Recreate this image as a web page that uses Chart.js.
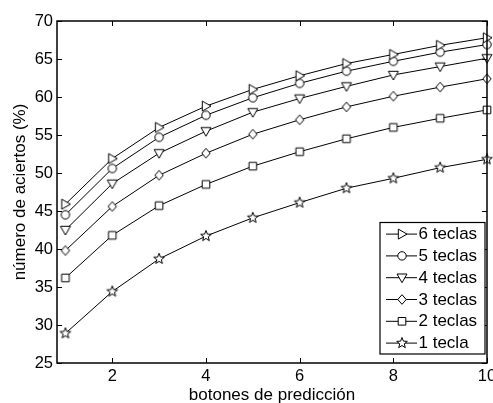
<!DOCTYPE html>
<html>
<head>
<meta charset="utf-8">
<script src="https://cdn.jsdelivr.net/npm/chart.js@4.4.1/dist/chart.umd.min.js"></script>
<style>
  html, body { margin: 0; padding: 0; background: #ffffff; }
  #wrap { width: 493px; height: 403px; }
</style>
</head>
<body>
<div id="wrap"><canvas id="c" width="493" height="403"></canvas></div>
<script>
// Número de botones de predicción (eje x)
const botones = [1, 2, 3, 4, 5, 6, 7, 8, 9, 10];

// Porcentaje de aciertos por número de teclas
const teclas6 = [45.9, 51.9, 56.0, 58.8, 61.0, 62.8, 64.4, 65.6, 66.8, 67.8];
const teclas5 = [44.5, 50.6, 54.7, 57.6, 59.9, 61.8, 63.4, 64.7, 65.9, 66.9];
const teclas4 = [42.5, 48.6, 52.6, 55.5, 58.0, 59.8, 61.4, 62.9, 64.0, 65.1];
const teclas3 = [39.8, 45.6, 49.7, 52.6, 55.1, 57.0, 58.7, 60.1, 61.3, 62.4];
const teclas2 = [36.2, 41.8, 45.7, 48.5, 50.9, 52.8, 54.5, 56.0, 57.2, 58.3];
const tecla1  = [28.9, 34.4, 38.7, 41.7, 44.1, 46.1, 48.0, 49.3, 50.7, 51.8];

const etiquetas = ['6 teclas', '5 teclas', '4 teclas', '3 teclas', '2 teclas', '1 tecla'];
const series = [teclas6, teclas5, teclas4, teclas3, teclas2, tecla1];
const marcadores = ['triRight', 'circle', 'triDown', 'diamond', 'square', 'star'];

const xTicks = [2, 4, 6, 8, 10];
const yTicks = [25, 30, 35, 40, 45, 50, 55, 60, 65, 70];

// Hollow marker glyphs drawn on small canvases
function trazarMarcador(ctx, forma, cx, cy) {
  ctx.beginPath();
  if (forma === 'triRight') {
    ctx.moveTo(cx - 3.7, cy - 5); ctx.lineTo(cx + 5, cy); ctx.lineTo(cx - 3.7, cy + 5); ctx.closePath();
  } else if (forma === 'circle') {
    ctx.arc(cx, cy, 4.2, 0, Math.PI * 2);
  } else if (forma === 'triDown') {
    ctx.moveTo(cx - 5, cy - 3.7); ctx.lineTo(cx + 5, cy - 3.7); ctx.lineTo(cx, cy + 5); ctx.closePath();
  } else if (forma === 'diamond') {
    ctx.moveTo(cx, cy - 4.8); ctx.lineTo(cx + 4.2, cy); ctx.lineTo(cx, cy + 4.8); ctx.lineTo(cx - 4.2, cy); ctx.closePath();
  } else if (forma === 'square') {
    ctx.rect(cx - 3.8, cy - 3.8, 7.6, 7.6);
  } else if (forma === 'star') {
    const ro = 5.6, ri = 2.4;
    for (let k = 0; k < 10; k++) {
      const r = k % 2 === 0 ? ro : ri;
      const a = -Math.PI / 2 + k * Math.PI / 5;
      const px = cx + r * Math.cos(a), py = cy + r * Math.sin(a);
      if (k === 0) ctx.moveTo(px, py); else ctx.lineTo(px, py);
    }
    ctx.closePath();
  }
  ctx.fillStyle = '#ffffff';
  ctx.fill();
  ctx.strokeStyle = '#000000';
  ctx.lineWidth = 1;
  ctx.stroke();
}

function crearMarcador(forma) {
  const cv = document.createElement('canvas');
  cv.width = 16; cv.height = 16;
  trazarMarcador(cv.getContext('2d'), forma, 8, 8);
  return cv;
}

const datasets = series.map((vals, i) => ({
  label: etiquetas[i],
  data: botones.map((b, j) => ({ x: b, y: vals[j] })),
  borderColor: '#000000',
  borderWidth: 1,
  backgroundColor: '#ffffff',
  pointStyle: crearMarcador(marcadores[i]),
  pointRadius: 5,
  pointHoverRadius: 5,
  tension: 0,
  clip: false
}));

// Axis box with inward ticks on all four sides, plus the boxed legend
const marcoYLeyenda = {
  id: 'marcoYLeyenda',
  afterDraw(chart) {
    const { ctx, chartArea: a, scales } = chart;
    const sx = scales.x, sy = scales.y;
    const tl = 5;
    ctx.save();
    ctx.strokeStyle = '#000000';
    ctx.lineWidth = 1;
    ctx.beginPath();
    xTicks.forEach(v => {
      const px = Math.round(sx.getPixelForValue(v)) + 0.5;
      ctx.moveTo(px, a.bottom); ctx.lineTo(px, a.bottom - tl);
      ctx.moveTo(px, a.top); ctx.lineTo(px, a.top + tl);
    });
    yTicks.forEach(v => {
      const py = Math.round(sy.getPixelForValue(v)) + 0.5;
      ctx.moveTo(a.left, py); ctx.lineTo(a.left + tl, py);
      ctx.moveTo(a.right, py); ctx.lineTo(a.right - tl, py);
    });
    ctx.stroke();
    ctx.lineWidth = 1.5;
    ctx.strokeRect(a.left, a.top, a.right - a.left, a.bottom - a.top);

    // legend
    const bw = 105, bh = 131.5;
    const bx = a.right - 2 - bw, by = a.bottom - 9 - bh;
    ctx.fillStyle = '#ffffff';
    ctx.fillRect(bx, by, bw, bh);
    ctx.lineWidth = 1.2;
    ctx.strokeRect(bx, by, bw, bh);
    ctx.font = '17px "Liberation Sans", Arial, sans-serif';
    ctx.textBaseline = 'middle';
    ctx.textAlign = 'left';
    chart.data.datasets.forEach((ds, i) => {
      const cy = by + 11.6 + i * 21.8;
      ctx.beginPath();
      ctx.lineWidth = 1;
      ctx.moveTo(bx + 6, cy); ctx.lineTo(bx + 37, cy);
      ctx.stroke();
      trazarMarcador(ctx, marcadores[i], bx + 22, cy);
      ctx.fillStyle = '#000000';
      ctx.fillText(ds.label, bx + 38.5, cy + 0.5);
    });
    ctx.restore();
  }
};

const fuenteTicks = { family: '"Liberation Sans", Arial, sans-serif', size: 16.5 };
const fuenteTitulo = { family: '"Liberation Sans", Arial, sans-serif', size: 17, lineHeight: 1 };

new Chart(document.getElementById('c'), {
  type: 'line',
  data: { datasets },
  options: {
    responsive: false,
    animation: false,
    devicePixelRatio: 1,
    layout: { padding: { top: 21, right: 4, left: 0, bottom: 0 } },
    plugins: {
      legend: { display: false },
      tooltip: { enabled: false }
    },
    scales: {
      x: {
        type: 'linear',
        min: 0.82,
        max: 10,
        afterBuildTicks(scale) { scale.ticks = xTicks.map(v => ({ value: v })); },
        afterFit(scale) { scale.height = 40; scale.paddingLeft = 0; scale.paddingRight = 0; },
        grid: { display: false, drawTicks: false },
        border: { display: false },
        ticks: { color: '#000000', font: fuenteTicks, padding: 3.5, maxRotation: 0, autoSkip: false },
        title: {
          display: true,
          text: 'botones de predicción',
          color: '#000000',
          font: fuenteTitulo,
          padding: { top: 0, bottom: -1 }
        }
      },
      y: {
        type: 'linear',
        min: 25,
        max: 70,
        afterBuildTicks(scale) { scale.ticks = yTicks.map(v => ({ value: v })); },
        afterFit(scale) { scale.width = 57; scale.paddingTop = 0; scale.paddingBottom = 0; },
        grid: { display: false, drawTicks: false },
        border: { display: false },
        ticks: { color: '#000000', font: fuenteTicks, padding: 4 },
        title: {
          display: true,
          text: 'número de aciertos (%)',
          color: '#000000',
          font: fuenteTitulo,
          padding: { top: 12, bottom: 0 }
        }
      }
    }
  },
  plugins: [marcoYLeyenda]
});
</script>
</body>
</html>
